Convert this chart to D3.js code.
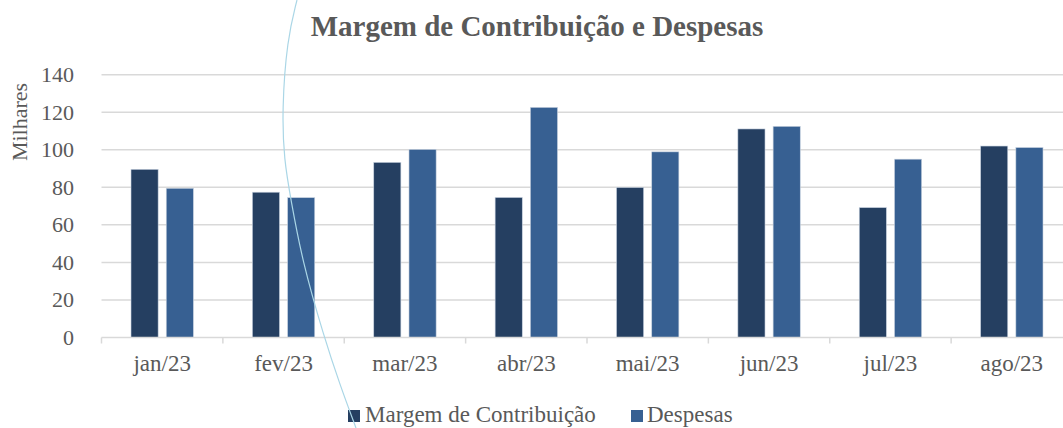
<!DOCTYPE html>
<html><head><meta charset="utf-8">
<script src="https://cdn.jsdelivr.net/npm/d3@7"></script>
<style>body{margin:0;background:#fff}svg{display:block}</style>
</head><body><svg id="c" width="1063" height="428"></svg>
<script>
const categories = ["jan/23","fev/23","mar/23","abr/23","mai/23","jun/23","jul/23","ago/23"];
const margem = [89.6, 77.4, 93.3, 74.6, 79.9, 111.1, 69.2, 102.0];
const despesas = [79.5, 74.5, 100.2, 122.6, 98.9, 112.5, 95.0, 101.2];
const yTicks = [0,20,40,60,80,100,120,140];
const seriesNames = ["Margem de Contribuição","Despesas"];
const colors = ["#253f61","#376092"];

const FONT = "Liberation Serif";
const TXT = "#595959";
const svg = d3.select("#c");
const L = 101.5, R = 1072.5, T = 74.7, B = 337.5;
const x = d3.scaleBand().domain(categories).range([L,R]).paddingInner(0).paddingOuter(0);
const y = d3.scaleLinear().domain([0,140]).range([B,T]);
const inner = d3.scaleBand().domain([0,1]).range([29.5, x.bandwidth()-29.5]).paddingInner(0.23);

function styleText(sel, size){ return sel.attr("font-family",FONT).attr("font-size",size).attr("fill",TXT); }

// gridlines
svg.append("g").selectAll("line").data(yTicks.filter(d=>d>0)).join("line")
  .attr("x1",L).attr("x2",1063).attr("y1",d=>y(d)).attr("y2",d=>y(d))
  .attr("stroke","#d9d9d9").attr("stroke-width",1.5);

// y labels
styleText(svg.append("g").selectAll("text").data(yTicks).join("text")
  .attr("x",74).attr("y",d=>y(d)).attr("dy","0.34em").attr("text-anchor","end"),22).text(d=>d);

// bars
const data = categories.map((c,i)=>({c, v:[margem[i],despesas[i]]}));
const g = svg.append("g");
data.forEach(d=>{
  d.v.forEach((v,k)=>{
    g.append("rect").attr("x",x(d.c)+inner(k)).attr("width",inner.bandwidth())
      .attr("y",y(v)).attr("height",y(0)-y(v)).attr("fill",colors[k])
      .attr("stroke","#c9d3e0").attr("stroke-width",0.6);
  });
});

// x axis
const xa = svg.append("g").attr("transform",`translate(0,${B})`);
xa.append("line").attr("x1",L).attr("x2",1063).attr("stroke","#d9d9d9").attr("stroke-width",1.5);
xa.selectAll("line.t").data(d3.range(categories.length+1)).join("line").attr("class","t")
  .attr("x1",i=>L+i*x.step()).attr("x2",i=>L+i*x.step()).attr("y1",0).attr("y2",6)
  .attr("stroke","#d9d9d9").attr("stroke-width",1.5);
styleText(xa.selectAll("text").data(categories).join("text")
  .attr("x",d=>x(d)+x.bandwidth()/2).attr("y",33).attr("text-anchor","middle"),23).text(d=>d);

// title
styleText(svg.append("text").attr("x",537).attr("y",36).attr("text-anchor","middle"),29)
  .attr("font-weight","bold").text("Margem de Contribuição e Despesas");

// y title
styleText(svg.append("text").attr("transform","translate(27,122) rotate(-90)").attr("text-anchor","middle"),22)
  .text("Milhares");

// legend
const leg = [{x:348,tx:365},{x:631,tx:647}];
leg.forEach((l,k)=>{
  svg.append("rect").attr("x",l.x).attr("y",410).attr("width",12).attr("height",12).attr("fill",colors[k]);
  styleText(svg.append("text").attr("x",l.tx).attr("y",422),23).text(seriesNames[k]);
});

// decorative connector curve present in the reference image
const curve = [[297,0],[287,40],[282,110],[284,160],[291,200],[302,260],[324,337],[340,385],[356,428]];
svg.append("path").attr("d",d3.line().curve(d3.curveBasis)(curve))
  .attr("fill","none").attr("stroke","#aad6e6").attr("stroke-width",1.2);
</script></body></html>
